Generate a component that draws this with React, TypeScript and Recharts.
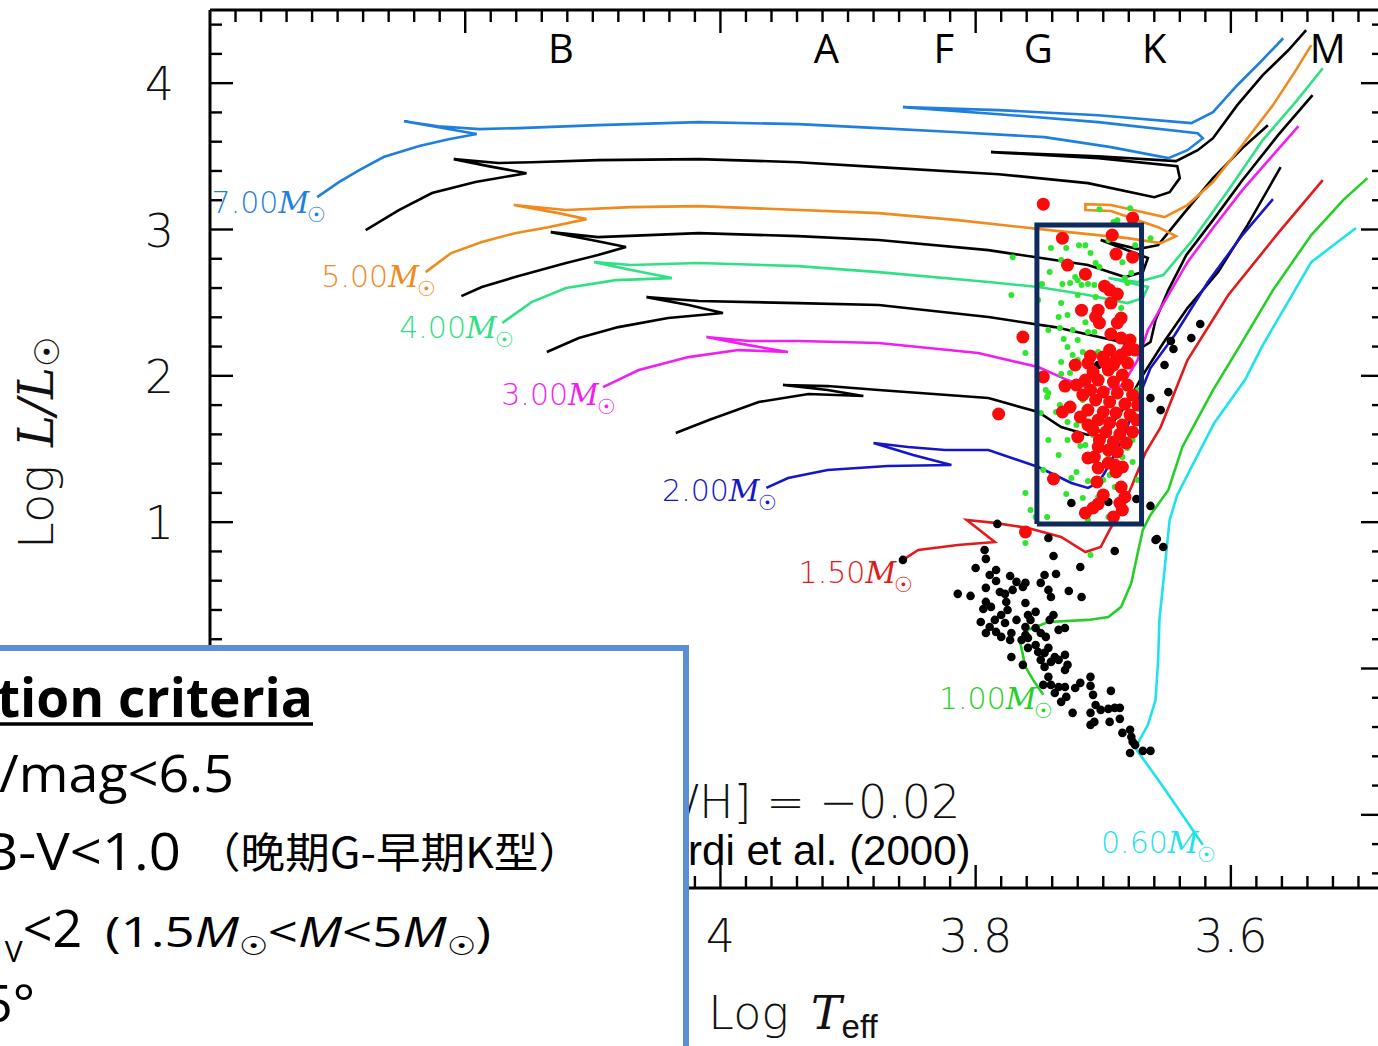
import React from "react";
import { ScatterChart, Scatter, XAxis, YAxis, ReferenceDot } from "recharts";

type Pt = [number, number]; // [log Teff, log L/Lsun]

// evolutionary tracks (Girardi et al. 2000)
const track700: Pt[] = [
  [4.316, 3.221], [4.299, 3.324], [4.283, 3.406], [4.264, 3.495], [4.236, 3.57], [4.213, 3.617],
  [4.191, 3.652], [4.221, 3.699], [4.248, 3.74], [4.221, 3.706], [4.189, 3.686], [4.158, 3.693],
  [4.096, 3.713], [4.017, 3.734], [3.939, 3.72], [3.876, 3.693], [3.814, 3.665], [3.746, 3.631],
  [3.694, 3.563], [3.649, 3.488], [3.634, 3.542], [3.622, 3.624], [3.626, 3.658], [3.704, 3.734],
  [3.782, 3.788], [3.857, 3.836], [3.782, 3.816], [3.704, 3.781], [3.631, 3.727], [3.614, 3.802],
  [3.595, 3.986], [3.577, 4.143], [3.559, 4.307],
];
const track600: Pt[] = [
  [4.278, 2.996], [4.252, 3.133], [4.226, 3.249], [4.192, 3.324], [4.152, 3.385], [4.182, 3.433],
  [4.209, 3.481], [4.174, 3.454], [4.148, 3.46], [4.096, 3.474], [4.017, 3.481], [3.939, 3.46],
  [3.876, 3.426], [3.782, 3.378], [3.712, 3.317], [3.66, 3.221], [3.648, 3.255], [3.64, 3.351],
  [3.642, 3.433], [3.704, 3.488], [3.788, 3.529], [3.704, 3.501], [3.643, 3.467], [3.626, 3.542],
  [3.614, 3.624], [3.595, 3.85], [3.575, 4.055], [3.555, 4.225], [3.541, 4.362],
];
const track500: Pt[] = [
  [4.231, 2.709], [4.211, 2.839], [4.187, 2.914], [4.161, 2.975], [4.135, 3.016], [4.105, 3.071],
  [4.127, 3.112], [4.162, 3.167], [4.121, 3.133], [4.07, 3.153], [4.017, 3.16], [3.876, 3.112],
  [3.814, 3.064], [3.735, 2.989], [3.681, 2.941], [3.655, 2.907], [3.643, 2.955], [3.657, 3.016],
  [3.694, 3.126], [3.714, 3.133], [3.714, 3.173], [3.694, 3.167], [3.652, 3.085], [3.634, 3.167],
  [3.614, 3.324], [3.591, 3.577], [3.567, 3.85], [3.549, 4.089], [3.537, 4.26],
];
const track450: Pt[] = [
  [4.203, 2.545], [4.187, 2.607], [4.161, 2.675], [4.121, 2.771], [4.096, 2.825], [4.074, 2.88],
  [4.101, 2.928], [4.133, 2.982], [4.096, 2.948], [4.017, 2.975], [3.939, 2.955], [3.876, 2.928],
  [3.79, 2.859], [3.712, 2.757], [3.683, 2.675], [3.669, 2.709], [3.665, 2.805], [3.702, 2.928],
  [3.673, 2.866], [3.657, 2.893], [3.638, 3.098], [3.614, 3.351], [3.591, 3.556], [3.571, 3.713],
];
const track400: Pt[] = [
  [4.171, 2.361], [4.148, 2.504], [4.121, 2.6], [4.082, 2.654], [4.038, 2.668], [4.07, 2.723],
  [4.099, 2.777], [4.07, 2.757], [4.017, 2.771], [3.939, 2.75], [3.876, 2.709], [3.79, 2.641],
  [3.751, 2.607], [3.712, 2.552], [3.681, 2.497], [3.669, 2.531], [3.665, 2.607], [3.696, 2.668],
  [3.673, 2.641], [3.653, 2.689], [3.63, 2.928], [3.602, 3.269], [3.575, 3.611], [3.548, 3.884],
  [3.528, 4.102],
];
const track350: Pt[] = [
  [4.136, 2.163], [4.111, 2.258], [4.08, 2.333], [4.041, 2.395], [3.998, 2.429], [4.025, 2.484],
  [4.058, 2.538], [4.017, 2.511], [3.939, 2.497], [3.876, 2.484], [3.79, 2.402], [3.738, 2.333],
  [3.686, 2.231], [3.673, 2.176], [3.663, 2.231], [3.659, 2.381], [3.649, 2.586], [3.635, 2.825],
  [3.614, 3.064], [3.591, 3.337], [3.563, 3.645], [3.536, 3.918],
];
const track300: Pt[] = [
  [4.092, 1.923], [4.064, 2.04], [4.025, 2.128], [3.986, 2.176], [3.947, 2.163], [3.978, 2.21],
  [4.011, 2.265], [3.978, 2.238], [3.939, 2.238], [3.876, 2.224], [3.798, 2.156], [3.751, 2.06],
  [3.728, 1.971], [3.704, 1.889], [3.685, 1.937], [3.673, 2.108], [3.665, 2.313], [3.649, 2.552],
  [3.634, 2.777], [3.614, 3.01], [3.591, 3.269], [3.567, 3.508], [3.547, 3.706],
];
const track250: Pt[] = [
  [4.035, 1.609], [4.009, 1.698], [3.97, 1.821], [3.931, 1.876], [3.888, 1.862], [3.916, 1.903],
  [3.951, 1.937], [3.916, 1.93], [3.876, 1.903], [3.79, 1.848], [3.751, 1.753], [3.733, 1.65],
  [3.712, 1.596], [3.696, 1.643], [3.682, 1.8], [3.669, 2.005], [3.653, 2.224], [3.634, 2.463],
  [3.61, 2.709], [3.587, 3.03], [3.561, 3.426],
];
const track200: Pt[] = [
  [3.964, 1.234], [3.947, 1.302], [3.916, 1.357], [3.869, 1.384], [3.819, 1.391], [3.849, 1.459],
  [3.88, 1.541], [3.853, 1.514], [3.824, 1.493], [3.79, 1.493], [3.751, 1.377], [3.725, 1.268],
  [3.712, 1.234], [3.704, 1.268], [3.699, 1.336], [3.685, 1.561], [3.673, 1.835], [3.663, 2.053],
  [3.644, 2.279], [3.618, 2.641], [3.591, 2.962], [3.567, 3.208],
];
const track150: Pt[] = [
  [3.857, 0.742], [3.845, 0.81], [3.814, 0.844], [3.785, 0.865], [3.807, 1.015], [3.785, 0.995],
  [3.759, 0.96], [3.733, 0.899], [3.714, 0.796], [3.702, 0.83], [3.695, 0.947], [3.686, 1.083],
  [3.678, 1.24], [3.667, 1.473], [3.655, 1.65], [3.634, 2.108], [3.602, 2.552], [3.563, 2.975],
  [3.528, 3.337],
];
const track100: Pt[] = [
  [3.747, -0.18], [3.755, -0.078], [3.761, 0.011], [3.765, 0.175], [3.759, 0.264], [3.743, 0.318],
  [3.712, 0.332], [3.696, 0.352], [3.686, 0.421], [3.678, 0.585], [3.673, 0.79], [3.669, 0.947],
  [3.663, 1.049], [3.649, 1.22], [3.638, 1.514], [3.614, 1.903], [3.595, 2.176], [3.567, 2.586],
  [3.537, 2.962], [3.512, 3.201], [3.493, 3.351],
];
const track060: Pt[] = [
  [3.622, -1.205], [3.638, -1.0], [3.657, -0.761], [3.675, -0.542], [3.665, -0.385], [3.659, -0.214],
  [3.657, 0.059], [3.656, 0.332], [3.652, 0.673], [3.648, 1.015], [3.642, 1.186], [3.63, 1.391],
  [3.613, 1.678], [3.589, 1.971], [3.575, 2.21], [3.537, 2.777], [3.502, 3.01],
];

const tracks = [
  { id: "t600", color: "#000000", pts: track600 },
  { id: "t450", color: "#000000", pts: track450 },
  { id: "t350", color: "#000000", pts: track350 },
  { id: "t250", color: "#000000", pts: track250 },
  { id: "t700", color: "#1f7fdf", pts: track700 },
  { id: "t500", color: "#f08a1c", pts: track500 },
  { id: "t400", color: "#30e184", pts: track400 },
  { id: "t300", color: "#f01ef0", pts: track300 },
  { id: "t200", color: "#1616c8", pts: track200 },
  { id: "t150", color: "#e21a1a", pts: track150 },
  { id: "t100", color: "#25cf25", pts: track100 },
  { id: "t060", color: "#1fe2ea", pts: track060 },
];

const massLabels = ["7.00", "5.00", "4.00", "3.00", "2.00", "1.50", "1.00", "0.60"];
const massLabelLogT = [4.309, 4.223, 4.162, 4.082, 3.956, 3.849, 3.739, 3.612];
const massLabelLogL = [3.11, 2.61, 2.26, 1.8, 1.145, 0.585, -0.276, -1.26];
const massLabelColors = ["#1f7fdf", "#f08a1c", "#30e184", "#f01ef0", "#1616c8", "#e21a1a", "#25cf25", "#1fe2ea"];

const spectralTypes = ["B", "A", "F", "G", "K", "M"];
const spectralLogT = [4.125, 3.917, 3.825, 3.751, 3.66, 3.524];
const spectralLogL = 4.14;

// selection window drawn on the diagram
const boxLogT = [3.752, 3.67, 3.67, 3.752, 3.752];
const boxLogL = [0.988, 0.988, 3.03, 3.03, 0.988];

const blackStars: Pt[] = [
  [3.857, 0.742], [3.783, 0.988], [3.743, 0.892], [3.793, 0.81], [3.792, 0.749], [3.739, 0.769],
  [3.691, 0.803], [3.659, 0.878], [3.653, 0.83], [3.8, 0.687], [3.718, 0.694], [3.784, 0.673],
  [3.789, 0.639], [3.746, 0.639], [3.737, 0.646], [3.773, 0.632], [3.784, 0.598], [3.768, 0.592],
  [3.761, 0.585], [3.749, 0.585], [3.763, 0.557], [3.792, 0.551], [3.814, 0.51], [3.804, 0.496],
  [3.743, 0.537], [3.727, 0.53], [3.781, 0.523], [3.777, 0.51], [3.771, 0.537], [3.741, 0.489],
  [3.717, 0.489], [3.792, 0.455], [3.788, 0.421], [3.776, 0.455], [3.775, 0.4], [3.761, 0.448],
  [3.794, 0.407], [3.753, 0.387], [3.739, 0.366], [3.78, 0.366], [3.785, 0.332], [3.768, 0.332],
  [3.759, 0.366], [3.757, 0.332], [3.796, 0.318], [3.789, 0.284], [3.777, 0.311], [3.761, 0.284],
  [3.753, 0.277], [3.735, 0.264], [3.73, 0.277], [3.742, 0.332], [3.784, 0.25], [3.78, 0.216],
  [3.772, 0.243], [3.792, 0.243], [3.761, 0.229], [3.759, 0.209], [3.749, 0.243], [3.745, 0.216],
  [3.773, 0.195], [3.764, 0.195], [3.753, 0.161], [3.751, 0.113], [3.746, 0.107], [3.743, 0.141],
  [3.759, 0.141], [3.738, 0.079], [3.73, 0.093], [3.772, 0.079], [3.749, 0.059], [3.741, 0.045],
  [3.735, 0.059], [3.763, 0.025], [3.728, 0.025], [3.746, 0.011], [3.73, -0.01], [3.743, -0.057],
  [3.71, -0.057], [3.747, -0.112], [3.741, -0.112], [3.735, -0.126], [3.73, -0.126], [3.718, -0.098],
  [3.71, -0.119], [3.738, -0.167], [3.722, -0.133], [3.729, -0.194], [3.733, -0.228], [3.708, -0.18],
  [3.694, -0.153], [3.706, -0.249], [3.702, -0.283], [3.696, -0.276], [3.691, -0.269], [3.687, -0.269],
  [3.724, -0.303], [3.71, -0.303], [3.707, -0.365], [3.71, -0.385], [3.695, -0.365], [3.687, -0.344],
  [3.685, -0.44], [3.679, -0.419], [3.678, -0.467], [3.677, -0.501], [3.675, -0.522], [3.679, -0.577],
  [3.669, -0.563], [3.663, -0.563],
  [3.704, 2.074], [3.652, 2.074], [3.649, 1.889], [3.663, 1.848], [3.655, 1.766], [3.725, 1.131],
  [3.696, 1.138], [3.674, 1.158], [3.663, 1.111], [3.658, 0.885], [3.624, 2.354], [3.631, 2.258],
  [3.647, 2.238], [3.645, 2.183],
];

const greenStars: Pt[] = [
  [3.703, 3.139], [3.679, 3.146], [3.689, 3.064], [3.692, 3.051], [3.771, 2.811], [3.741, 2.873],
  [3.729, 2.873], [3.719, 2.893], [3.714, 2.893], [3.71, 2.839], [3.733, 2.791], [3.742, 2.709],
  [3.706, 2.771], [3.703, 2.743], [3.722, 2.675], [3.72, 2.654], [3.726, 2.634], [3.732, 2.627],
  [3.717, 2.62], [3.712, 2.627], [3.748, 2.627], [3.707, 2.62], [3.772, 2.552], [3.72, 2.552],
  [3.706, 2.538], [3.733, 2.497], [3.72, 2.449], [3.735, 2.402], [3.728, 2.415], [3.714, 2.367],
  [3.734, 2.327], [3.724, 2.313], [3.712, 2.299], [3.707, 2.299], [3.731, 2.251], [3.72, 2.245],
  [3.761, 2.156], [3.728, 2.197], [3.716, 2.163], [3.704, 2.163], [3.733, 2.094], [3.663, 2.941],
  [3.675, 2.893], [3.683, 2.668], [3.681, 2.634], [3.686, 2.463], [3.678, 2.702], [3.733, 2.012],
  [3.726, 2.019], [3.745, 1.903], [3.743, 1.883], [3.744, 1.855], [3.749, 1.746], [3.737, 1.753],
  [3.734, 1.8], [3.728, 1.561], [3.718, 1.521], [3.714, 1.527], [3.728, 1.684], [3.721, 1.664],
  [3.721, 1.343], [3.725, 1.302], [3.712, 1.281], [3.761, 1.199], [3.729, 1.193], [3.716, 1.165],
  [3.704, 1.172], [3.757, 1.083], [3.753, 1.036], [3.744, 1.036], [3.712, 1.015], [3.696, 1.036],
  [3.691, 1.24], [3.685, 1.445], [3.681, 1.507], [3.695, 1.322], [3.686, 1.152], [3.761, 0.858],
  [3.71, 0.776], [3.716, 1.835], [3.708, 1.596], [3.696, 1.459], [3.677, 1.561], [3.677, 1.411],
  [3.7, 1.288], [3.673, 1.288], [3.673, 1.903], [3.72, 2.108], [3.724, 2.142], [3.751, 2.518],
  [3.743, 2.313], [3.689, 2.381], [3.696, 2.928], [3.685, 2.777], [3.743, 1.561], [3.735, 1.459],
  [3.747, 1.357],
];

const redStars: Pt[] = [
  [3.747, 3.173], [3.677, 3.078], [3.693, 2.962], [3.732, 2.941], [3.69, 2.832], [3.677, 2.811],
  [3.728, 2.757], [3.714, 2.695], [3.699, 2.613], [3.695, 2.586], [3.689, 2.559], [3.694, 2.497],
  [3.717, 2.449], [3.704, 2.449], [3.706, 2.402], [3.703, 2.361], [3.686, 2.395], [3.689, 2.361],
  [3.763, 2.265], [3.694, 2.286], [3.686, 2.258], [3.679, 2.245], [3.675, 2.176], [3.695, 2.176],
  [3.686, 2.142], [3.71, 2.135], [3.722, 2.074], [3.712, 2.087], [3.699, 2.094], [3.692, 2.074],
  [3.681, 2.087], [3.747, 1.992], [3.73, 1.93], [3.721, 1.937], [3.782, 1.739], [3.726, 1.787],
  [3.732, 1.753], [3.718, 1.719], [3.72, 1.582], [3.739, 1.295], [3.705, 1.275], [3.712, 1.439],
  [3.707, 1.445], [3.704, 1.37], [3.696, 1.404], [3.691, 1.391], [3.685, 1.377], [3.69, 1.343],
  [3.686, 1.24], [3.7, 1.186], [3.683, 1.172], [3.704, 1.124], [3.687, 1.131], [3.708, 1.097],
  [3.714, 1.063], [3.685, 1.083], [3.692, 1.036], [3.761, 0.933],
  [3.708, 2.026], [3.696, 2.04], [3.685, 2.005], [3.704, 1.971], [3.692, 1.958], [3.681, 1.937],
  [3.71, 1.903], [3.7, 1.889], [3.689, 1.883], [3.677, 1.869], [3.706, 1.835], [3.695, 1.821],
  [3.683, 1.807], [3.712, 1.766], [3.7, 1.753], [3.69, 1.746], [3.679, 1.732], [3.704, 1.698],
  [3.695, 1.678], [3.685, 1.664], [3.708, 1.63], [3.698, 1.616], [3.687, 1.602], [3.677, 1.616],
  [3.703, 1.561], [3.692, 1.548], [3.682, 1.541], [3.696, 1.493], [3.689, 1.48], [3.704, 1.514],
  [3.712, 1.664], [3.716, 1.869], [3.673, 1.8], [3.674, 1.698], [3.714, 1.971], [3.69, 2.108],
  [3.7, 2.128], [3.681, 2.176],
];

// axes (labels under the slide box are left blank, as they are hidden there)
const xTickValues = [4.4, 4.2, 4.0, 3.8, 3.6];
const xTickLabels = ["", "", "4", "3.8", "3.6"];
const yTickValues = [-1, 0, 1, 2, 3, 4];
const yTickLabels = ["", "", "1", "2", "3", "4"];

const xAllTicks: number[] = [];
for (let i = 350; i <= 438; i += 2) xAllTicks.push(i / 100);
const yAllTicks: number[] = [];
for (let i = -14; i <= 44; i += 2) yAllTicks.push(i / 10);

const HERSHEY = "'DejaVu Sans', 'Liberation Sans', sans-serif";
const SERIF = "'DejaVu Serif', 'Liberation Serif', serif";
const SLIDE = "'Open Sans', 'Noto Sans', sans-serif";
const CJK = "'Noto Sans CJK SC', 'Noto Sans CJK JP', sans-serif";

const toRows = (pts: Pt[]) => pts.map(([t, l]) => ({ t, l }));
const boxRows = boxLogT.map((t, i) => ({ t, l: boxLogL[i] }));
const findMajor = (vals: number[], v: number) => vals.findIndex((m) => Math.abs(m - v) < 1e-6);

const bottomTick = (p: any) => {
  const i = findMajor(xTickValues, p.payload.value);
  return (
    <g>
      <line x1={p.x} y1={p.y} x2={p.x} y2={p.y - (i >= 0 ? 23 : 12)} stroke="#000" strokeWidth={2.4} />
      {i >= 0 && xTickLabels[i] && (
        <text x={p.x} y={p.y + 64} textAnchor="middle" fontFamily={HERSHEY} fontWeight={200} fontSize={46} fill="#111">
          {xTickLabels[i]}
        </text>
      )}
    </g>
  );
};

const topTick = (p: any) => {
  const i = findMajor(xTickValues, p.payload.value);
  return <line x1={p.x} y1={p.y} x2={p.x} y2={p.y + (i >= 0 ? 23 : 12)} stroke="#000" strokeWidth={2.4} />;
};

const leftTick = (p: any) => {
  const i = findMajor(yTickValues, p.payload.value);
  return (
    <g>
      <line x1={p.x} y1={p.y} x2={p.x + (i >= 0 ? 23 : 12)} y2={p.y} stroke="#000" strokeWidth={2.4} />
      {i >= 0 && yTickLabels[i] && (
        <text x={p.x - 36} y={p.y + 17} textAnchor="end" fontFamily={HERSHEY} fontWeight={200} fontSize={46} fill="#111">
          {yTickLabels[i]}
        </text>
      )}
    </g>
  );
};

const rightTick = (p: any) => {
  const i = findMajor(yTickValues, p.payload.value);
  return <line x1={p.x} y1={p.y} x2={p.x - (i >= 0 ? 23 : 12)} y2={p.y} stroke="#000" strokeWidth={2.4} />;
};

const XTitle = ({ viewBox }: any) => (
  <text x={viewBox.x + viewBox.width / 2 - 4} y={viewBox.y + 141} textAnchor="middle" fontFamily={HERSHEY} fontWeight={200} fontSize={46} fill="#111">
    Log
    <tspan dx={22} fontFamily={SERIF} fontStyle="italic">T</tspan>
    <tspan dy={9} fontSize={33} fontFamily="'Liberation Sans', sans-serif">eff</tspan>
  </text>
);

const YTitle = ({ viewBox }: any) => (
  <text
    transform={`translate(${viewBox.x + 53},${viewBox.y + viewBox.height / 2 - 6}) rotate(-90)`}
    textAnchor="middle"
    fontFamily={HERSHEY}
    fontWeight={200}
    fontSize={48}
    fill="#111"
  >
    Log
    <tspan dx={18} fontFamily={SERIF} fontStyle="italic">L/L</tspan>
    <tspan dy={6} fontSize={34}>☉</tspan>
  </text>
);

const trackShape = () => <g />;
const dot = (r: number, fill: string) => (p: any) => <circle cx={p.cx} cy={p.cy} r={r} fill={fill} />;

export default function App() {
  return (
    <div style={{ position: "absolute", left: 0, top: 0, width: 1378, height: 1046, overflow: "hidden", background: "#fff" }}>
      <ScatterChart width={1400} height={1046} margin={{ top: 9, right: 15, bottom: 0, left: 0 }}>
        <XAxis
          xAxisId="b"
          dataKey="t"
          type="number"
          domain={[3.48, 4.4]}
          reversed
          allowDataOverflow
          ticks={xAllTicks}
          interval={0}
          tickSize={0}
          tickMargin={0}
          tickLine={false}
          height={158}
          axisLine={{ stroke: "#000", strokeWidth: 3 }}
          tick={bottomTick}
          label={<XTitle />}
        />
        <XAxis
          xAxisId="t"
          orientation="top"
          dataKey="t"
          type="number"
          domain={[3.48, 4.4]}
          reversed
          allowDataOverflow
          ticks={xAllTicks}
          interval={0}
          tickSize={0}
          tickMargin={0}
          tickLine={false}
          height={1}
          axisLine={{ stroke: "#000", strokeWidth: 3 }}
          tick={topTick}
        />
        <YAxis
          yAxisId="l"
          dataKey="l"
          type="number"
          domain={[-1.5, 4.5]}
          allowDataOverflow
          ticks={yAllTicks}
          interval={0}
          tickSize={0}
          tickMargin={0}
          tickLine={false}
          width={210}
          axisLine={{ stroke: "#000", strokeWidth: 3 }}
          tick={leftTick}
          label={<YTitle />}
        />
        <YAxis
          yAxisId="r"
          orientation="right"
          dataKey="l"
          type="number"
          domain={[-1.5, 4.5]}
          allowDataOverflow
          ticks={yAllTicks}
          interval={0}
          tickSize={0}
          tickMargin={0}
          tickLine={false}
          width={1}
          axisLine={{ stroke: "#000", strokeWidth: 3 }}
          tick={rightTick}
        />

        {/* keeps the mirrored frame axes attached to data */}
        <Scatter xAxisId="t" yAxisId="r" data={boxRows} shape={trackShape} isAnimationActive={false} />

        {tracks.map((tr) => (
          <Scatter
            key={tr.id}
            xAxisId="b"
            yAxisId="l"
            data={toRows(tr.pts)}
            line={{ stroke: tr.color, strokeWidth: 2.6 }}
            shape={trackShape}
            isAnimationActive={false}
          />
        ))}

        <Scatter xAxisId="b" yAxisId="l" data={toRows(blackStars)} shape={dot(4.3, "#000")} isAnimationActive={false} />
        <Scatter xAxisId="b" yAxisId="l" data={toRows(greenStars)} shape={dot(3, "#2fe62f")} isAnimationActive={false} />
        <Scatter xAxisId="b" yAxisId="l" data={toRows(redStars)} shape={dot(6.5, "#fa0a0a")} isAnimationActive={false} />

        <Scatter
          xAxisId="b"
          yAxisId="l"
          data={boxRows}
          line={{ stroke: "#0f2a5c", strokeWidth: 5 }}
          shape={trackShape}
          isAnimationActive={false}
        />

        {massLabels.map((m, i) => (
          <ReferenceDot
            key={m}
            xAxisId="b"
            yAxisId="l"
            x={massLabelLogT[i]}
            y={massLabelLogL[i]}
            r={0}
            shape={(p: any) => (
              <text x={p.cx} y={p.cy} textAnchor="end" fill={massLabelColors[i]} fontFamily={HERSHEY} fontWeight={200} fontSize={30}>
                {m}
                <tspan fontFamily={SERIF} fontStyle="italic">M</tspan>
                <tspan dx={-2} dy={9} fontSize={21}>☉</tspan>
              </text>
            )}
          />
        ))}

        {spectralTypes.map((s, i) => (
          <ReferenceDot
            key={s}
            xAxisId="b"
            yAxisId="l"
            x={spectralLogT[i]}
            y={spectralLogL}
            r={0}
            shape={(p: any) => (
              <text x={p.cx} y={p.cy} textAnchor="middle" fontFamily={SLIDE} fontSize={40} fill="#000">
                {s}
              </text>
            )}
          />
        ))}

        <ReferenceDot
          xAxisId="b"
          yAxisId="l"
          x={3.812}
          y={-1.02}
          r={0}
          shape={(p: any) => (
            <text x={p.cx} y={p.cy} textAnchor="end" fontFamily={HERSHEY} fontWeight={200} fontSize={46} fill="#111">
              [Fe/H] = −0.02
            </text>
          )}
        />
        <ReferenceDot
          xAxisId="b"
          yAxisId="l"
          x={3.804}
          y={-1.342}
          r={0}
          shape={(p: any) => (
            <text x={p.cx} y={p.cy} textAnchor="end" fontFamily="'Liberation Sans', Arial, sans-serif" fontSize={42} fill="#000">
              Girardi et al. (2000)
            </text>
          )}
        />
      </ScatterChart>

      <svg width={1378} height={1046} style={{ position: "absolute", left: 0, top: 0, pointerEvents: "none" }}>
        <rect x={-10} y={648} width={696} height={420} fill="#fff" stroke="#5a8ed6" strokeWidth={6} />
        <text x={-3} y={717} fontFamily={SLIDE} fontWeight={700} fontSize={54} textLength={316} lengthAdjust="spacingAndGlyphs" fill="#000">
          tion criteria
        </text>
        <line x1={0} y1={724} x2={313} y2={724} stroke="#000" strokeWidth={3.5} />
        <text x={-33} y={792} fontFamily={SLIDE} fontSize={52} textLength={267} lengthAdjust="spacingAndGlyphs" fill="#000">
          V/mag&lt;6.5
        </text>
        <text x={-18} y={870} fontFamily={SLIDE} fontSize={52} textLength={199} lengthAdjust="spacingAndGlyphs" fill="#000">
          B-V&lt;1.0
        </text>
        <text x={196} y={868} fontFamily={CJK} fontSize={42} textLength={387} lengthAdjust="spacingAndGlyphs" fill="#000">
          （晚期G-早期K型）
        </text>
        <text x={-42} y={947} fontFamily={SLIDE} fontSize={52} fill="#000">
          M<tspan fontSize={30} dy={15}>V</tspan>
          <tspan dy={-15}>&lt;2</tspan>
        </text>
        <text x={105} y={947} fontFamily={SLIDE} fontSize={42} textLength={386} lengthAdjust="spacingAndGlyphs" fill="#000">
          (1.5<tspan fontStyle="italic">M</tspan>
          <tspan fontSize={26} dy={8}>☉</tspan>
          <tspan dy={-8}>&lt;</tspan>
          <tspan fontStyle="italic">M</tspan>&lt;5<tspan fontStyle="italic">M</tspan>
          <tspan fontSize={26} dy={8}>☉</tspan>
          <tspan dy={-8}>)</tspan>
        </text>
        <text x={-17} y={1022} fontFamily={SLIDE} fontSize={52} fill="#000">
          5°
        </text>
      </svg>
    </div>
  );
}
